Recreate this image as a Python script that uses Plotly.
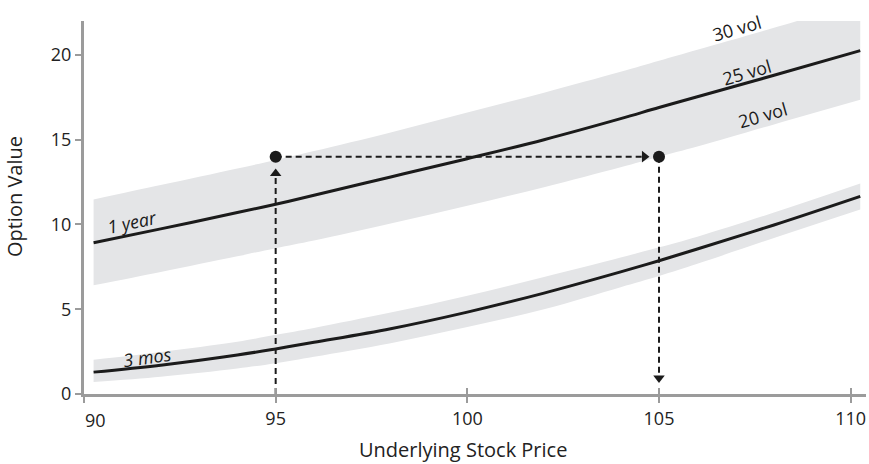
import plotly.graph_objects as go

# ---- data ----
price = [90.25, 92, 94, 95, 96, 98, 100, 102, 104, 105, 106, 108, 110.25]

one_year_30vol = [11.47, 12.32, 13.30, 13.80, 14.33, 15.43, 16.60, 17.77, 19.00, 19.65, 20.30, 21.60, 23.10]
one_year_25vol = [8.92, 9.74, 10.70, 11.19, 11.72, 12.80, 13.88, 15.00, 16.24, 16.90, 17.53, 18.80, 20.25]
one_year_20vol = [6.41, 7.20, 8.12, 8.60, 9.05, 10.05, 11.10, 12.20, 13.38, 14.00, 14.60, 15.90, 17.35]

three_mos_30vol = [2.02, 2.48, 3.08, 3.49, 3.90, 4.80, 5.80, 6.90, 8.05, 8.65, 9.28, 10.70, 12.41]
three_mos_25vol = [1.29, 1.70, 2.30, 2.66, 3.05, 3.85, 4.83, 5.95, 7.20, 7.86, 8.55, 9.97, 11.66]
three_mos_20vol = [0.71, 1.02, 1.50, 1.82, 2.20, 3.00, 3.95, 5.00, 6.30, 6.96, 7.68, 9.20, 10.88]

# illustration: same option value (14) at 95 / 30 vol and at 105 / 20 vol
example_prices = [95, 105]
example_value = 14
up_arrow_tip = 13.0        # value where the upward arrow head sits
right_arrow_tip = 104.62   # price where the rightward arrow head sits
down_arrow_tip = 0.95      # value where the downward arrow head sits

x_ticks = [90, 95, 100, 105, 110]
y_ticks = [0, 5, 10, 15, 20]

BAND = "#e4e5e7"
LINE = "#1b1b1b"
AXIS = "#9b9b9b"
FONT = "Open Sans"

fig = go.Figure()

def band(lo, hi):
    fig.add_trace(go.Scatter(x=price, y=lo, mode="lines", line=dict(width=0, shape="spline"),
                             hoverinfo="skip", showlegend=False))
    fig.add_trace(go.Scatter(x=price, y=hi, mode="lines", line=dict(width=0, shape="spline"),
                             fill="tonexty", fillcolor=BAND, hoverinfo="skip", showlegend=False))

band(one_year_20vol, one_year_30vol)
band(three_mos_20vol, three_mos_30vol)

for ys in (one_year_25vol, three_mos_25vol):
    fig.add_trace(go.Scatter(x=price, y=ys, mode="lines",
                             line=dict(color=LINE, width=3, shape="spline"),
                             showlegend=False))

dash = dict(color=LINE, width=2, dash="6px,4px")
fig.add_trace(go.Scatter(x=[example_prices[0], example_prices[0]], y=[0, up_arrow_tip],
                         mode="lines", line=dash, showlegend=False))
fig.add_trace(go.Scatter(x=[example_prices[0], right_arrow_tip], y=[example_value, example_value],
                         mode="lines", line=dash, showlegend=False))
fig.add_trace(go.Scatter(x=[example_prices[1], example_prices[1]], y=[example_value, down_arrow_tip],
                         mode="lines", line=dash, showlegend=False))

fig.add_trace(go.Scatter(x=[example_prices[0]], y=[up_arrow_tip], mode="markers",
                         marker=dict(symbol="triangle-up", size=10, color=LINE), showlegend=False))
fig.add_trace(go.Scatter(x=[right_arrow_tip], y=[example_value], mode="markers",
                         marker=dict(symbol="triangle-right", size=10, color=LINE), showlegend=False))
fig.add_trace(go.Scatter(x=[example_prices[1]], y=[down_arrow_tip], mode="markers",
                         marker=dict(symbol="triangle-down", size=10, color=LINE), showlegend=False))

fig.add_trace(go.Scatter(x=example_prices, y=[example_value, example_value], mode="markers",
                         marker=dict(size=12, color=LINE), showlegend=False))

# invisible trace for the overlay axis that draws the inward tick halves
fig.add_trace(go.Scatter(x=x_ticks, y=y_ticks, xaxis="x2", mode="markers",
                         marker=dict(opacity=0), hoverinfo="skip", showlegend=False))

labels = [
    ("30 vol", 107.04, 21.6, -16, "normal"),
    ("25 vol", 107.30, 19.0, -16, "normal"),
    ("20 vol", 107.70, 16.45, -16, "normal"),
    ("1 year", 91.25, 10.13, -12, "italic"),
    ("3 mos", 91.65, 2.2, -8, "italic"),
]
for txt, x, y, ang, style in labels:
    fig.add_annotation(x=x, y=y, text=txt, showarrow=False, textangle=ang,
                       font=dict(family=FONT, size=18, color="#1a1a1a", style=style))

# "90" label shifted right of the axis corner, as in the reference
fig.add_annotation(x=90.29, y=0, yref="y", yshift=-26, yanchor="middle", text="90", showarrow=False,
                   font=dict(family=FONT, size=18, color="#222"))

# axis titles
fig.add_annotation(xref="paper", yref="paper", x=0.4847, y=-0.150, text="Underlying Stock Price",
                   showarrow=False, xanchor="center", yanchor="middle",
                   font=dict(family=FONT, size=20, color="#222"))
fig.add_annotation(xref="paper", yref="paper", x=-0.0895, y=0.528, text="Option Value",
                   showarrow=False, xanchor="center", yanchor="middle", textangle=-90,
                   font=dict(family=FONT, size=20, color="#222"))

fig.update_layout(
    width=869, height=464,
    margin=dict(l=84, r=3, t=21, b=70, autoexpand=False),
    paper_bgcolor="white", plot_bgcolor="white",
    font=dict(family=FONT, size=18, color="#222"),
    xaxis=dict(range=[90, 110.4], tickvals=x_ticks, ticktext=[""] + [str(v) for v in x_ticks[1:]],
               showgrid=False, zeroline=False, showline=True, linecolor=AXIS, linewidth=3,
               ticks="outside", ticklen=6, tickwidth=2, tickcolor=AXIS, automargin=False),
    xaxis2=dict(range=[90, 110.4], overlaying="x", anchor="y", side="bottom",
                tickvals=x_ticks, showticklabels=False, showgrid=False, zeroline=False,
                showline=False, ticks="inside", ticklen=6, tickwidth=2, tickcolor=AXIS,
                automargin=False),
    yaxis=dict(range=[0, 22], tickvals=y_ticks, showgrid=False, zeroline=False,
               showline=True, linecolor=AXIS, linewidth=3,
               ticks="outside", ticklen=6, tickwidth=2, tickcolor=AXIS, automargin=False),
)

fig.write_html("out.html", config={"displayModeBar": False},
               post_script="document.body.style.margin='0px';document.body.style.overflow='hidden';")
